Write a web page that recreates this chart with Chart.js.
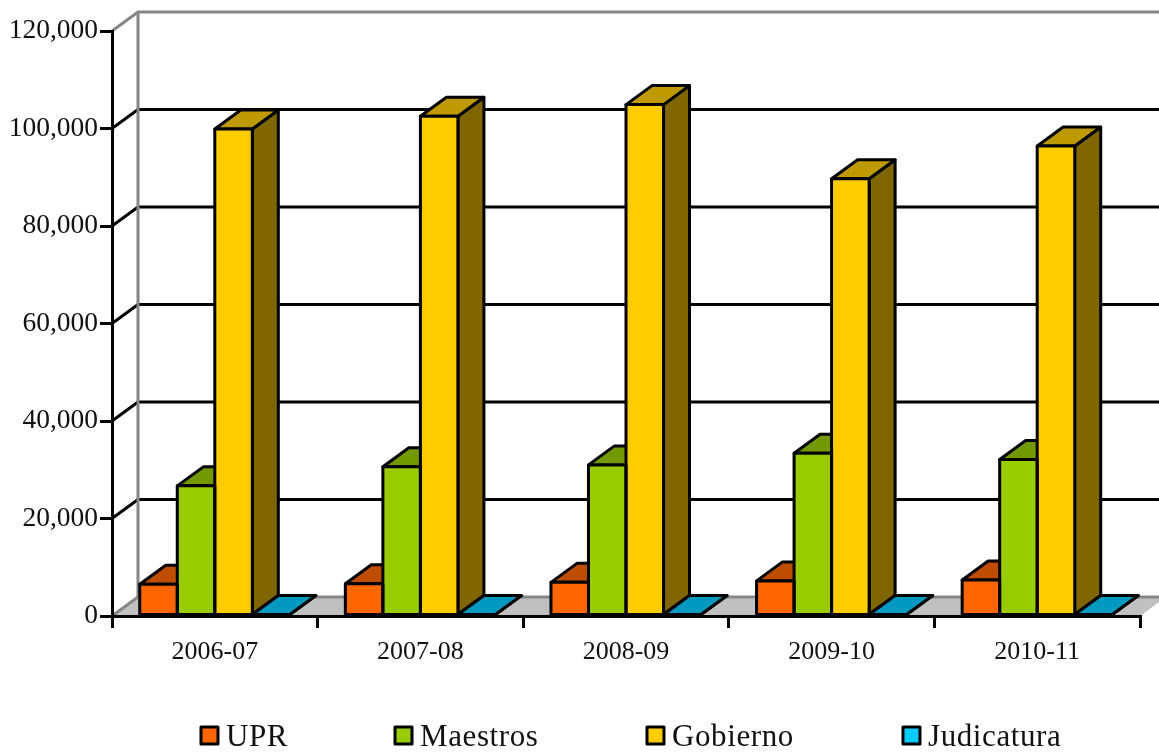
<!DOCTYPE html>
<html>
<head>
<meta charset="utf-8">
<style>
html, body { margin: 0; padding: 0; background: #fff; overflow: hidden; }
#wrap { width: 1159px; height: 753px; }
</style>
<script src="https://cdn.jsdelivr.net/npm/chart.js@4"></script>
</head>
<body>
<div id="wrap"><canvas id="chart" width="1159" height="753"></canvas></div>
<script>
const categories = ['2006-07', '2007-08', '2008-09', '2009-10', '2010-11'];
const upr = [6500, 6600, 6900, 7200, 7400];
const maestros = [26700, 30600, 31000, 33400, 32100];
const gobierno = [99900, 102500, 104900, 89700, 96400];
const judicatura = [300, 300, 300, 300, 300];
const seriesNames = ['UPR', 'Maestros', 'Gobierno', 'Judicatura'];

const frontColors = ['#FF6600', '#99CC00', '#FFCC00', '#00CCFF'];
const topColors = ['#BF4D00', '#739900', '#BF9900', '#0099BF'];
const sideColors = ['#7F3300', '#4D6600', '#7F6600', '#006680'];

const DEPTH_X = 26;
const DEPTH_Y = 19;
const SERIF = '"Liberation Serif", serif';
const INK = '#000';
const WALL = '#868686';
const FLOOR = '#C0C0C0';
const EDGE = 3;

function poly(ctx, pts, fill, stroke, width) {
  ctx.beginPath();
  pts.forEach((p, i) => (i ? ctx.lineTo(p[0], p[1]) : ctx.moveTo(p[0], p[1])));
  ctx.closePath();
  if (fill) { ctx.fillStyle = fill; ctx.fill(); }
  if (stroke) { ctx.strokeStyle = stroke; ctx.lineWidth = width; ctx.lineJoin = 'round'; ctx.stroke(); }
}

function line(ctx, pts, color, width) {
  ctx.beginPath();
  pts.forEach((p, i) => (i ? ctx.lineTo(p[0], p[1]) : ctx.moveTo(p[0], p[1])));
  ctx.strokeStyle = color;
  ctx.lineWidth = width;
  ctx.lineJoin = 'round';
  ctx.stroke();
}

// Floor, back wall and the receding gridlines sit behind the axes and bars.
const roomPlugin = {
  id: 'room',
  beforeDraw(chart) {
    const { ctx, chartArea: a, scales: { y } } = chart;
    const far = a.right + DEPTH_X;
    const baseY = y.getPixelForValue(0);
    const backBase = baseY - DEPTH_Y;
    ctx.save();
    poly(ctx, [[a.left, baseY], [a.left + DEPTH_X, backBase], [far, backBase], [a.right, baseY]], FLOOR);
    line(ctx, [[a.left, baseY], [a.left + DEPTH_X, backBase], [far, backBase]], WALL, 3);
    y.ticks.forEach((t) => {
      if (t.value === 0) return;
      const py = y.getPixelForValue(t.value);
      const isTop = t.value === y.max;
      line(ctx, [[a.left, py], [a.left + DEPTH_X, py - DEPTH_Y], [far, py - DEPTH_Y]], isTop ? WALL : INK, EDGE);
    });
    line(ctx, [[a.left + DEPTH_X, y.getPixelForValue(y.max) - DEPTH_Y], [a.left + DEPTH_X, backBase]], WALL, 3);
    ctx.restore();
  }
};

// Chart.js fills the front of each bar; the top and side faces go underneath
// series by series, and the front outlines are stroked once the fills are done.
const prismPlugin = {
  id: 'prism',
  beforeDatasetsDraw(chart) {
    const { ctx } = chart;
    ctx.save();
    chart.data.datasets.forEach((ds, i) => {
      chart.getDatasetMeta(i).data.forEach((bar) => {
        const p = bar.getProps(['x', 'y', 'base', 'width'], true);
        const l = p.x - p.width / 2, r = p.x + p.width / 2;
        poly(ctx, [[r, p.y], [r + DEPTH_X, p.y - DEPTH_Y], [r + DEPTH_X, p.base - DEPTH_Y], [r, p.base]], sideColors[i], INK, EDGE);
        poly(ctx, [[l, p.y], [l + DEPTH_X, p.y - DEPTH_Y], [r + DEPTH_X, p.y - DEPTH_Y], [r, p.y]], topColors[i], INK, EDGE);
      });
    });
    ctx.restore();
  },
  afterDatasetsDraw(chart) {
    const { ctx } = chart;
    ctx.save();
    chart.data.datasets.forEach((ds, i) => {
      chart.getDatasetMeta(i).data.forEach((bar) => {
        const p = bar.getProps(['x', 'y', 'base', 'width'], true);
        const l = p.x - p.width / 2, r = p.x + p.width / 2;
        poly(ctx, [[l, p.y], [r, p.y], [r, p.base], [l, p.base]], null, INK, EDGE);
      });
    });
    ctx.restore();
  }
};

// Series key along the bottom edge, with swatches in the series colours.
const keyStarts = [200, 394, 646, 902];
const keyPlugin = {
  id: 'key',
  afterDraw(chart) {
    const { ctx } = chart;
    ctx.save();
    ctx.font = '31px ' + SERIF;
    ctx.letterSpacing = '0.6px';
    ctx.textBaseline = 'alphabetic';
    ctx.textAlign = 'left';
    chart.data.datasets.forEach((ds, i) => {
      const x = keyStarts[i];
      poly(ctx, [[x + 1, 727], [x + 18, 727], [x + 18, 744], [x + 1, 744]], frontColors[i], INK, EDGE);
      ctx.fillStyle = '#111';
      ctx.fillText(ds.label, x + 26, 746);
    });
    ctx.restore();
  }
};

const seriesValues = [upr, maestros, gobierno, judicatura];

new Chart(document.getElementById('chart'), {
  type: 'bar',
  data: {
    labels: categories,
    datasets: seriesNames.map((name, i) => ({
      label: name,
      data: seriesValues[i],
      backgroundColor: frontColors[i],
      borderWidth: 0
    }))
  },
  options: {
    responsive: false,
    animation: false,
    layout: { padding: { top: 31, right: 19, left: 0, bottom: 0 } },
    plugins: { legend: { display: false }, tooltip: { enabled: false } },
    datasets: { bar: { categoryPercentage: 0.73, barPercentage: 1 } },
    scales: {
      x: {
        afterFit(scale) { scale.height = 137; },
        border: { color: INK, width: EDGE },
        grid: { drawOnChartArea: false, drawTicks: true, tickLength: 12, color: INK, lineWidth: EDGE },
        ticks: { color: '#111', padding: 9, font: { family: SERIF, size: 26 }, maxRotation: 0 }
      },
      y: {
        min: 0,
        max: 120000,
        afterFit(scale) { scale.width = 112; },
        border: { color: INK, width: EDGE },
        grid: { drawOnChartArea: false, drawTicks: true, tickLength: 12, color: INK, lineWidth: EDGE },
        ticks: {
          stepSize: 20000,
          color: '#111',
          padding: 2,
          font: { family: SERIF, size: 27.5 },
          callback: (v) => v.toLocaleString('en-US')
        }
      }
    }
  },
  plugins: [roomPlugin, prismPlugin, keyPlugin]
});
</script>
</body>
</html>
